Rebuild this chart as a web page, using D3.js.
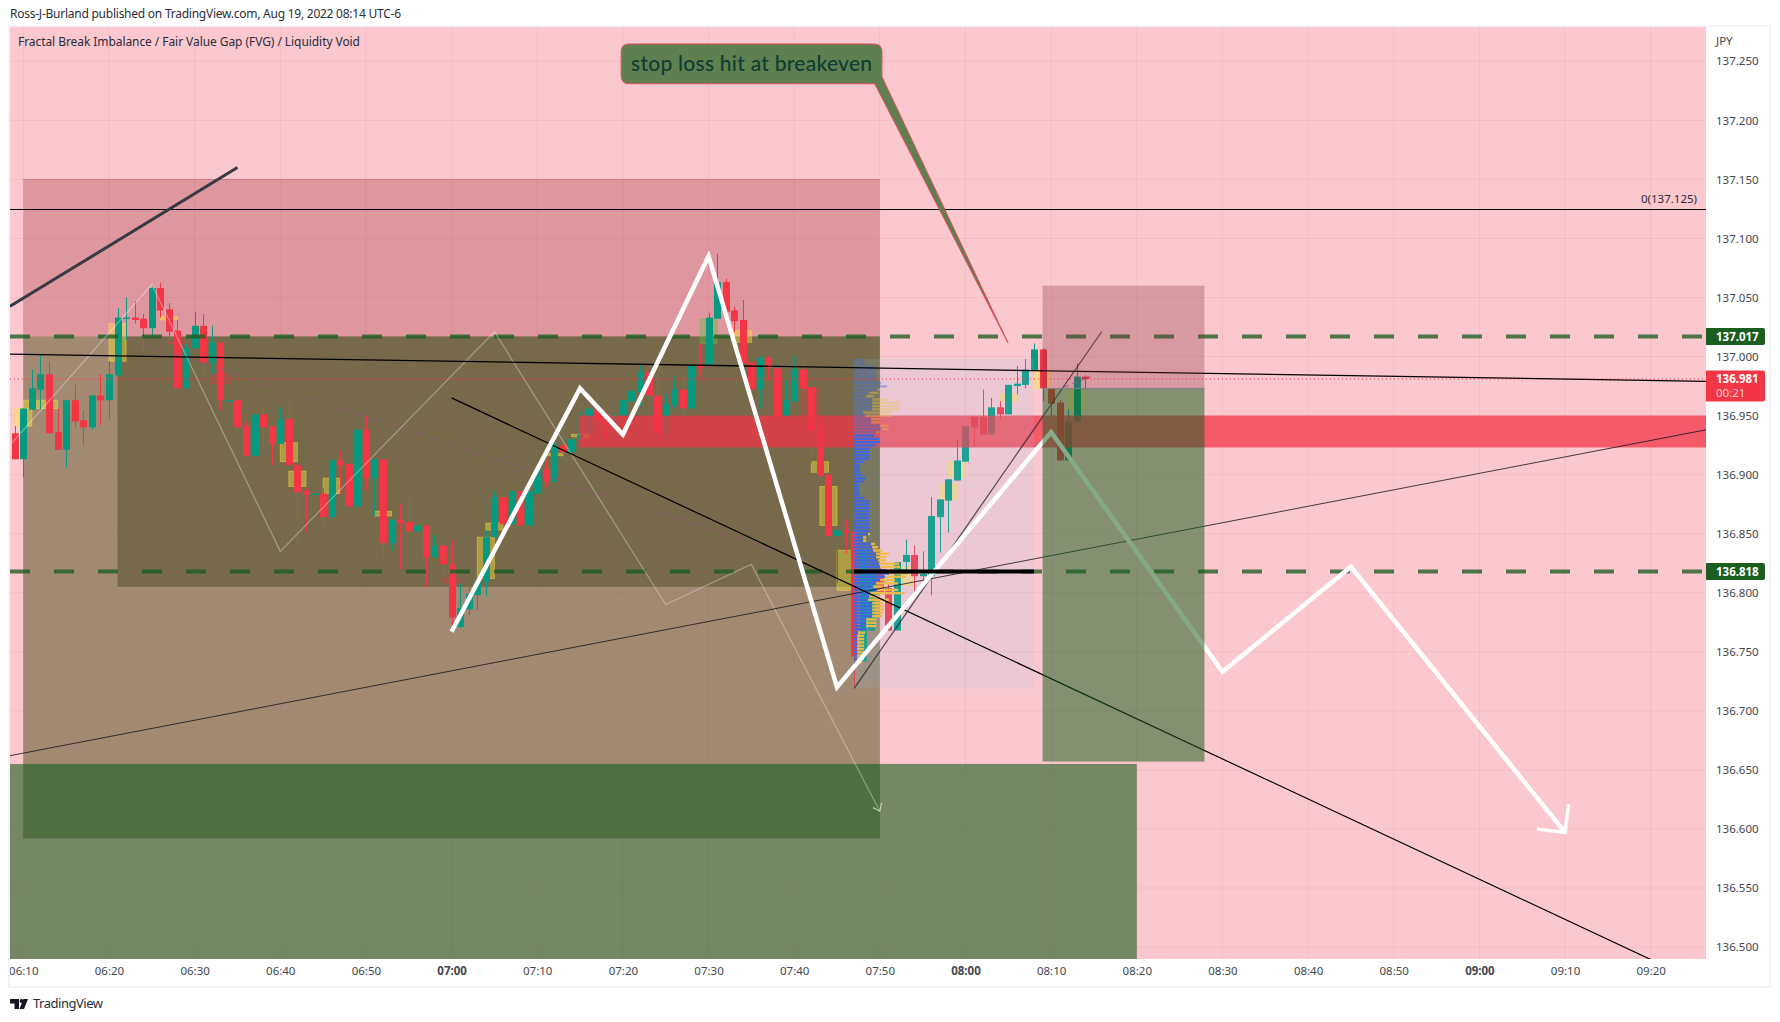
<!DOCTYPE html>
<html>
<head>
<meta charset="utf-8">
<script src="https://d3js.org/d3.v7.min.js"></script>
<style>
  body { margin: 0; background: #fff; }
  text { font-family: "Noto Sans", sans-serif; }
  .axis text { font-size: 11.5px; fill: #434651; font-family: "Noto Sans", sans-serif; }
</style>
</head>
<body>
<div id="chart"></div>
<script>
// candles, one minute each, first one is 06:09, ten per row
const firstMinute = 369;
const opens = [
  136.935,136.913,136.955,136.972,136.985,136.936,136.921,136.963,136.946,136.940,
  136.967,136.963,136.984,137.032,137.033,137.032,137.024,137.058,137.040,137.022,
  136.973,137.007,137.026,136.995,137.012,136.963,136.963,136.941,136.916,136.951,
  136.941,136.926,136.947,136.908,136.886,136.883,136.884,136.864,136.912,136.909,
  136.873,136.938,136.897,136.913,136.842,136.862,136.860,136.852,136.857,136.830,
  136.840,136.824,136.771,136.786,136.798,136.809,136.847,136.881,136.858,136.886,
  136.857,136.884,136.905,136.894,136.925,136.919,136.930,136.934,136.956,136.949,
  136.941,136.950,136.962,136.970,136.987,136.967,136.935,136.959,136.972,136.956,
  136.992,136.992,137.032,137.063,137.039,137.031,136.995,136.972,136.999,136.990,
  136.949,136.962,136.989,136.974,136.937,136.900,136.848,136.853,136.852,136.742,
  136.768,136.820,136.804,136.768,136.826,136.832,136.814,136.814,136.864,136.878,
  136.895,136.911,136.949,136.949,136.934,136.957,136.951,136.975,136.976,136.988,
  137.006,136.973,136.961,136.912,136.945,136.983];
const highs = [
  136.941,136.956,136.989,137.001,136.996,136.956,136.963,136.976,136.954,136.967,
  136.985,136.996,137.041,137.050,137.047,137.036,137.060,137.062,137.045,137.031,
  137.011,137.038,137.036,137.026,137.012,136.976,136.968,136.945,136.955,136.957,
  136.941,136.957,136.967,136.908,136.889,136.897,136.889,136.913,136.920,136.913,
  136.951,136.950,136.913,136.913,136.862,136.875,136.883,136.876,136.857,136.849,
  136.845,136.845,136.808,136.805,136.813,136.853,136.886,136.886,136.886,136.886,
  136.886,136.904,136.912,136.927,136.945,136.932,136.953,136.967,136.976,136.952,
  136.952,136.969,136.987,136.993,136.993,136.984,136.968,136.984,136.982,137.006,
  137.011,137.037,137.087,137.066,137.042,137.048,136.995,137.000,137.000,136.994,
  136.982,137.000,137.000,136.974,136.949,136.900,136.853,136.862,136.852,136.836,
  136.820,136.821,136.808,136.826,136.845,136.840,136.835,136.881,136.879,136.896,
  136.930,136.941,136.949,136.972,136.965,136.962,136.976,136.992,136.998,137.011,
  137.007,136.973,136.963,136.955,136.994,136.984];
const lows = [
  136.913,136.898,136.955,136.955,136.935,136.921,136.906,136.940,136.925,136.938,
  136.942,136.947,136.984,137.014,137.028,137.005,137.018,137.033,137.012,136.973,
  136.973,136.989,136.980,136.985,136.954,136.939,136.932,136.916,136.916,136.922,
  136.908,136.926,136.908,136.836,136.851,136.860,136.853,136.864,136.884,136.873,
  136.873,136.887,136.865,136.830,136.836,136.820,136.852,136.842,136.805,136.830,
  136.812,136.768,136.770,136.781,136.785,136.797,136.847,136.858,136.858,136.857,
  136.857,136.873,136.889,136.894,136.919,136.908,136.930,136.934,136.929,136.930,
  136.938,136.950,136.958,136.958,136.949,136.935,136.929,136.956,136.950,136.956,
  136.982,136.987,137.032,137.038,137.021,136.994,136.972,136.956,136.980,136.942,
  136.949,136.962,136.973,136.910,136.899,136.848,136.808,136.833,136.721,136.742,
  136.768,136.800,136.768,136.768,136.816,136.800,136.808,136.798,136.834,136.851,
  136.895,136.911,136.924,136.934,136.934,136.947,136.951,136.968,136.973,136.988,
  136.962,136.949,136.912,136.912,136.944,136.972];
const closes = [
  136.913,136.956,136.973,136.985,136.935,136.921,136.963,136.945,136.940,136.967,
  136.963,136.985,137.033,137.033,137.031,137.024,137.058,137.039,137.021,136.973,
  137.007,137.026,136.995,137.012,136.963,136.963,136.940,136.916,136.951,136.940,
  136.926,136.947,136.908,136.885,136.883,136.884,136.864,136.912,136.908,136.873,
  136.938,136.897,136.913,136.842,136.862,136.859,136.852,136.857,136.830,136.840,
  136.824,136.779,136.787,136.799,136.809,136.847,136.881,136.858,136.886,136.857,
  136.886,136.904,136.894,136.925,136.919,136.930,136.934,136.956,136.946,136.941,
  136.950,136.963,136.971,136.987,136.967,136.935,136.960,136.972,136.956,136.992,
  136.990,137.033,137.063,137.038,137.030,136.994,136.972,136.999,136.990,136.949,
  136.963,136.989,136.973,136.937,136.899,136.848,136.853,136.851,136.746,136.836,
  136.820,136.800,136.768,136.826,136.832,136.814,136.816,136.865,136.879,136.896,
  136.912,136.941,136.940,136.934,136.957,136.951,136.976,136.977,136.989,137.006,
  136.973,136.960,136.912,136.945,136.983,136.981];

// imbalance boxes: start minute, end minute, top price, bottom price
const boxStart = [369,370,372,380,386,423,424,400,401,405,411,431,434,453,462,463,465,477,478,472,484,488,492];
const boxEnd   = [371,372,374,382,388,425,426,402,403,407,413,433,436,455,464,465,467,479,480,474,486,490,494];
const boxTop   = [136.956,136.963,136.963,137.028,137.034,136.847,136.859,136.927,136.903,136.897,136.869,136.918,136.934,137.022,136.911,136.890,136.836,136.892,136.911,136.822,136.968,136.987,136.972];
const boxBot   = [136.941,136.956,136.956,136.996,137.031,136.812,136.853,136.911,136.890,136.884,136.865,136.916,136.932,137.012,136.902,136.857,136.802,136.879,136.898,136.806,136.962,136.973,136.955];
const redBoxStart = [387,392,419,461];
const redBoxEnd   = [389,394,421,463];
const redBoxTop   = [137.013,136.985,136.812,136.973];
const redBoxBot   = [137.011,136.977,136.808,136.950];

// volume profile rows from the top, up and down part
const vpBuy = [10,10,19,22,22,22,22,27,33,23,15,12,18,18,18,18,9,11,17,17,26,27,22,20,25,26,22,15,15,15,15,9,6,6,6,8,11,10,5,5,5,6,10,15,15,15,15,15,15,15,15,15,15,14,9,9,17,18,19,22,22,24,25,26,32,35,31,26,22,19,23,16,15,14,18,18,18,18,18,12,12,12,12,4,3,3,3,3,3,3,3,3,3,2];
const vpSell = [0,0,0,0,0,0,0,0,0,3,9,8,16,28,28,28,28,27,9,9,8,8,3,0,0,0,0,0,0,0,0,0,0,0,0,0,0,0,0,0,0,0,0,0,0,0,0,0,0,0,0,0,0,2,3,3,4,6,9,13,10,8,20,20,14,19,21,15,22,10,21,34,11,21,11,12,12,11,10,10,10,10,0,7,7,7,7,7,7,7,7,7,5,2];
const vpTopPrice = 136.998;
const vpRowStep = 0.00278;
const vpValueAreaRow = 23; // rows above this are outside value area

// ticks
const priceTicks = [137.25,137.2,137.15,137.1,137.05,137,136.95,136.9,136.85,136.8,136.75,136.7,136.65,136.6,136.55,136.5];
const timeTicks = [370,380,390,400,410,420,430,440,450,460,470,480,490,500,510,520,530,540,550,560];
const hourTicks = [420,480,540];

// drawings, [minute, price]
const whitePath = [[420,136.767],[435,136.973],[440,136.934],[450,137.085],[465,136.720],[490,136.936],[510,136.733],[525,136.822],[550,136.597]];
const whiteHead = [[546.7,136.600],[550,136.597],[550.4,136.621]];
const thinPath = [[368.7,136.927],[385,137.061],[400,136.835],[425,137.021],[445,136.790],[455,136.824],[470,136.615]];
const thinHead = [[469.2,136.618],[470,136.615],[470.2,136.622]];
const flatLine = [[368.45,137.002],[566.5,136.979]];
const riseLine = [[368.45,136.662],[566.5,136.938]];
const fallLine = [[420,136.965],[561,136.486]];
const shortRise = [[467,136.719],[495.9,137.021]];
const darkLine = [[368.45,137.0425],[395,137.160]];
const dashPurple = [[382.1,137.015],[464,136.821]];
const positionDash = [[491.5,136.974],[494.6,136.983]];

const fibPrice = 137.125;
const support = 137.017;
const support2 = 136.818;
const lastPrice = 136.981;

const svg = d3.select("#chart").append("svg").attr("width", 1780).attr("height", 1022);

const paneL = 10, paneR = 1706, paneT = 27, paneB = 959;

const x = d3.scaleLinear().domain([370, 560]).range([23.3, 1650.7]);
const y = d3.scaleLinear().domain([137.25, 136.5]).range([61.3, 947]);
const vpW = d3.scaleLinear().domain([0, 100]).range([0, 100]);
const line = d3.line().x(d => x(d[0])).y(d => y(d[1]));

svg.append("defs").append("clipPath").attr("id", "pane")
  .append("rect").attr("x", paneL).attr("y", paneT).attr("width", paneR - paneL).attr("height", paneB - paneT);
svg.select("defs").append("clipPath").attr("id", "timeclip")
  .append("rect").attr("x", paneL).attr("y", 0).attr("width", 1760).attr("height", 30);

// frame
svg.append("rect").attr("x", 9).attr("y", 26).attr("width", 1761).attr("height", 961)
  .attr("fill", "#fff").attr("stroke", "#f0f3fa").attr("stroke-width", 2);

const pane = svg.append("g").attr("clip-path", "url(#pane)");
pane.append("rect").attr("x", paneL).attr("y", paneT).attr("width", paneR - paneL).attr("height", paneB - paneT).attr("fill", "#fcc8cf");

// grid
pane.selectAll(".gy").data(priceTicks).join("line").attr("x1", paneL).attr("x2", paneR)
  .attr("y1", d => y(d)).attr("y2", d => y(d)).attr("stroke", "rgba(120,50,60,0.07)");
pane.selectAll(".gx").data(timeTicks).join("line").attr("y1", paneT).attr("y2", paneB)
  .attr("x1", d => x(d)).attr("x2", d => x(d)).attr("stroke", "rgba(120,50,60,0.07)");

function zone(g, m0, m1, p0, p1, fill) {
  return g.append("rect").attr("x", x(m0)).attr("width", x(m1) - x(m0))
    .attr("y", y(p0)).attr("height", y(p1) - y(p0)).attr("fill", fill);
}

// big zones under the candles
zone(pane, 370, 470, 137.150, 136.592, "rgba(150,30,40,0.29)");
pane.append("line").attr("x1", x(370)).attr("x2", x(470)).attr("y1", y(137.150)).attr("y2", y(137.150)).attr("stroke", "rgba(150,30,40,0.3)");
zone(pane, 370, 470, 137.017, 136.592, "rgba(100,123,70,0.5)");
zone(pane, 381, 470, 137.017, 136.805, "rgba(76,75,34,0.5)");
zone(pane, 360, 500, 136.655, 136.4, "rgba(27,94,32,0.6)");

// imbalance boxes
boxStart.forEach((m, i) => {
  zone(pane, m, boxEnd[i], boxTop[i], boxBot[i], "rgba(255,235,59,0.4)")
    .attr("stroke", "rgba(255,225,60,0.45)");
});
redBoxStart.forEach((m, i) => {
  zone(pane, m, redBoxEnd[i], redBoxTop[i], redBoxBot[i], "rgba(242,54,69,0.3)")
    .attr("stroke", "rgba(242,54,69,0.4)");
});
zone(pane, 449, 451, 137.032, 137.011, "rgba(102,187,75,0.4)").attr("stroke", "rgba(102,187,75,0.4)");

// candles
const candles = opens.map((o, i) => ({ m: firstMinute + i, o: o, h: highs[i], l: lows[i], c: closes[i] }));
const up = "#089981", down = "#f23645";
const cg = pane.append("g");
cg.selectAll("line").data(candles).join("line")
  .attr("x1", d => Math.round(x(d.m)) + 0.5).attr("x2", d => Math.round(x(d.m)) + 0.5)
  .attr("y1", d => y(d.h)).attr("y2", d => y(d.l))
  .attr("stroke", d => d.c >= d.o ? up : down);
cg.selectAll("rect").data(candles).join("rect")
  .attr("x", d => Math.round(x(d.m)) - 3).attr("width", 7)
  .attr("y", d => y(Math.max(d.o, d.c)))
  .attr("height", d => Math.max(1.5, Math.abs(y(d.o) - y(d.c))))
  .attr("fill", d => d.c >= d.o ? up : down);

// imbalance zone over the candles
zone(pane, 435, 600, 136.950, 136.923, "rgba(242,54,69,0.75)");

// pale box behind volume profile
zone(pane, 467, 488, 136.998, 136.719, "rgba(140,200,240,0.15)");

// volume profile
const vp = pane.append("g");
vpBuy.forEach((b, i) => {
  const py = y(vpTopPrice - i * vpRowStep);
  const op = i < vpValueAreaRow ? 0.4 : 1;
  vp.append("rect").attr("x", x(467)).attr("y", py).attr("width", vpW(b)).attr("height", 2.4)
    .attr("fill", "#3f66dc").attr("opacity", op);
  if (vpSell[i] > 0) {
    vp.append("rect").attr("x", x(467) + vpW(b)).attr("y", py).attr("width", vpW(vpSell[i])).attr("height", 2.4)
      .attr("fill", "#f0bc48").attr("opacity", op * 0.95);
  }
});

// price lines
pane.append("line").attr("x1", paneL).attr("x2", paneR).attr("y1", y(lastPrice)).attr("y2", y(lastPrice))
  .attr("stroke", down).attr("stroke-dasharray", "1 3");
[support, support2].forEach(p => {
  pane.append("line").attr("x1", paneL).attr("x2", paneR).attr("y1", y(p)).attr("y2", y(p))
    .attr("stroke", "#1b5e20").attr("stroke-opacity", 0.78).attr("stroke-width", 4).attr("stroke-dasharray", "20 24");
});
pane.append("line").attr("x1", paneL).attr("x2", paneR)
  .attr("y1", Math.round(y(fibPrice)) + 0.5).attr("y2", Math.round(y(fibPrice)) + 0.5).attr("stroke", "#000");

function path(points, color, width, extra) {
  const p = pane.append("path").attr("d", line(points)).attr("fill", "none")
    .attr("stroke", color).attr("stroke-width", width).attr("stroke-linejoin", "miter");
  if (extra) p.attr("stroke-dasharray", extra);
  return p;
}
path(dashPurple, "rgba(150,85,120,0.7)", 1.4, "7 9");
path(thinPath, "rgba(255,255,255,0.32)", 1.3);
path(thinHead, "rgba(255,255,255,0.6)", 1.2);
path(flatLine, "#000", 1.3);
path(riseLine, "rgba(20,20,30,0.8)", 1);
path(fallLine, "#000", 1.2);
path(shortRise, "rgba(30,30,45,0.75)", 1.2);
path(darkLine, "#363a45", 3);
path(whitePath, "#fff", 4.5);
path(whiteHead, "#fff", 3.5);
pane.append("line").attr("x1", x(467)).attr("x2", x(488)).attr("y1", y(support2)).attr("y2", y(support2))
  .attr("stroke", "#000").attr("stroke-width", 4);
path(positionDash, "rgba(120,130,150,0.8)", 1.2, "5 4");

// short position on top of everything
zone(pane, 489, 507.9, 137.060, 136.973, "rgba(130,50,60,0.3)");
zone(pane, 489, 507.9, 136.973, 136.657, "rgba(27,94,32,0.53)");
pane.append("line").attr("x1", x(489)).attr("x2", x(507.9)).attr("y1", y(136.973)).attr("y2", y(136.973))
  .attr("stroke", "#7c8090").attr("stroke-width", 1);

// callout
const boxL = x(439.8), boxR = x(470.25), boxTopY = y(137.2647), boxBotY = y(137.231);
const r = 8;
const tipX = x(484.97), tipY = y(137.0115);
const tailA = x(469.4), tailBY = y(137.237);
const calloutPath = `M${boxL + r},${boxTopY} H${boxR - r} Q${boxR},${boxTopY} ${boxR},${boxTopY + r} V${tailBY}
  L${tipX},${tipY} L${tailA},${boxBotY} H${boxL + r} Q${boxL},${boxBotY} ${boxL},${boxBotY - r} V${boxTopY + r} Q${boxL},${boxTopY} ${boxL + r},${boxTopY} Z`;
svg.append("path").attr("d", calloutPath).attr("fill", "#5f7f50").attr("stroke", "#e0505a").attr("stroke-width", 1);
svg.append("text").attr("x", (boxL + boxR) / 2).attr("y", (boxTopY + boxBotY) / 2 + 7)
  .attr("text-anchor", "middle").attr("fill", "#0f3d33").attr("font-size", 21)
  .style("font-family", "Lato, sans-serif").style("font-weight", 500).attr("textLength", 241).text("stop loss hit at breakeven");

// texts in the pane
svg.append("text").attr("x", 18).attr("y", 46).attr("font-size", 12).attr("fill", "#2a2e39")
  .attr("textLength", 342).text("Fractal Break Imbalance / Fair Value Gap (FVG) / Liquidity Void");
svg.append("text").attr("x", 1697).attr("y", y(fibPrice) - 6).attr("text-anchor", "end")
  .attr("font-size", 11.5).attr("fill", "#2a2e39").text("0(137.125)");
svg.append("text").attr("x", 10).attr("y", 18).attr("font-size", 12).attr("fill", "#2a2e39")
  .attr("textLength", 391).text("Ross-J-Burland published on TradingView.com, Aug 19, 2022 08:14 UTC-6");

// axes
const yAxis = svg.append("g").attr("class", "axis").attr("transform", `translate(${paneR},0)`)
  .call(d3.axisRight(y).tickValues(priceTicks).tickFormat(d3.format(".3f")).tickSize(0).tickPadding(10));
yAxis.select(".domain").remove();
svg.append("text").attr("x", 1716).attr("y", 45).attr("font-size", 11.5).attr("fill", "#434651").text("JPY");

const timeFmt = m => d3.format("02d")(Math.floor(m / 60)) + ":" + d3.format("02d")(m % 60);
const xAxis = svg.append("g").attr("class", "axis").attr("transform", `translate(0,${paneB})`)
  .attr("clip-path", "url(#timeclip)")
  .call(d3.axisBottom(x).tickValues(timeTicks).tickFormat(timeFmt).tickSize(0).tickPadding(8));
xAxis.select(".domain").remove();
xAxis.selectAll(".tick text").style("font-weight", d => hourTicks.includes(d) ? "700" : "400");

// price tags
function tag(p, h, fill) {
  const t = y(p) - 8.5;
  svg.append("path").attr("d", `M${paneR},${t} H1763 Q1765,${t} 1765,${t + 2} V${t + h - 2} Q1765,${t + h} 1763,${t + h} H${paneR} Z`).attr("fill", fill);
  svg.append("text").attr("x", 1716).attr("y", t + 13).attr("font-size", 11.5).attr("font-weight", 700).attr("fill", "#fff").text(d3.format(".3f")(p));
  return t;
}
tag(support, 17, "#1b5e20");
tag(support2, 17, "#1b5e20");
const lastTop = tag(lastPrice, 31, down);
svg.append("text").attr("x", 1716).attr("y", lastTop + 27).attr("font-size", 11.5).attr("fill", "#fccbcd").text("00:21");

// logo
svg.append("path").attr("d", "M10,999 H19 V1009 H14.5 V1003.5 H10 Z M28,999 L24,1009 H19.5 L23.5,999 Z").attr("fill", "#131722");
svg.append("circle").attr("cx", 21.5).attr("cy", 1001).attr("r", 1.9).attr("fill", "#131722");
svg.append("text").attr("x", 33).attr("y", 1008).attr("font-size", 13).attr("fill", "#2a2e39")
  .attr("textLength", 70).text("TradingView");

console.log(opens.length, highs.length, lows.length, closes.length);
</script>
</body>
</html>
